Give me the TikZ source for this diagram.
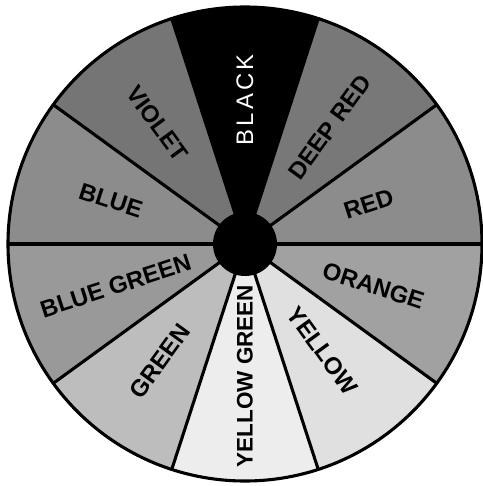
\documentclass[tikz,border=0pt]{standalone}
\usepackage{fontspec}
\setmainfont{Liberation Sans}
\newfontfamily\widesans[LetterSpace=14]{Liberation Sans}
\usepackage{tikz}
\usetikzlibrary{positioning}
\definecolor{deepredgray}{gray}{0.47}
\definecolor{redgray}{gray}{0.55}
\definecolor{orangegray}{gray}{0.63}
\definecolor{yellowgray}{gray}{0.88}
\definecolor{ygreengray}{gray}{0.93}
\definecolor{greengray}{gray}{0.74}
\definecolor{bgreengray}{gray}{0.60}
\definecolor{bluegray}{gray}{0.55}
\definecolor{violetgray}{gray}{0.46}

\begin{document}
\begin{tikzpicture}[x=0.025cm, y=0.025cm,
  wheel/.style={line width=2.2pt},
  tag/.style={font=\fontsize{17}{20}\selectfont\bfseries, inner sep=0pt}]

\useasboundingbox (-245,-242) rectangle (237,244);

% Sectors of the wheel
\foreach \a/\col in {72/black, 36/deepredgray, 0/redgray, -36/orangegray,
                     -72/yellowgray, -108/ygreengray, -144/greengray,
                     180/bgreengray, 144/bluegray, 108/violetgray}
  \fill[\col] (0,0) -- (\a:237) arc[start angle=\a, delta angle=36, radius=237] -- cycle;

% Spokes and rim
\foreach \a in {0,36,...,324}
  \draw[wheel] (0,0) -- (\a:237);
\draw[wheel] (0,0) circle[radius=237];

% Hub
\node[circle, fill=black, minimum size=1.6cm, inner sep=0pt] (hub) at (0,0) {};

% Colour names
\node[tag, text=white, rotate=90] (blacklabel) at (90:144) {\widesans\mdseries BLACK};
\node[tag, rotate=54] (deepredlabel) at (54:144) {DEEP RED};
\node[tag, rotate=18] (redlabel) at (18:130) {RED};
\node[tag, rotate=-18] (orangelabel) at (-18:135) {ORANGE};
\node[tag, rotate=-54] (yellowlabel) at (-54:132) {YELLOW};
\node[tag, rotate=90, font=\fontsize{16}{19}\selectfont\bfseries] (ygreenlabel) at (-90:132) {YELLOW GREEN};
\node[tag, rotate=54] (greenlabel) at (234:145) {GREEN};
\node[tag, rotate=18] (bgreenlabel) at (198:136) {BLUE GREEN};
\node[tag, rotate=-18] (bluelabel) at (162:141) {BLUE};
\node[tag, rotate=-54] (violetlabel) at (126:149) {VIOLET};

\end{tikzpicture}
\end{document}
